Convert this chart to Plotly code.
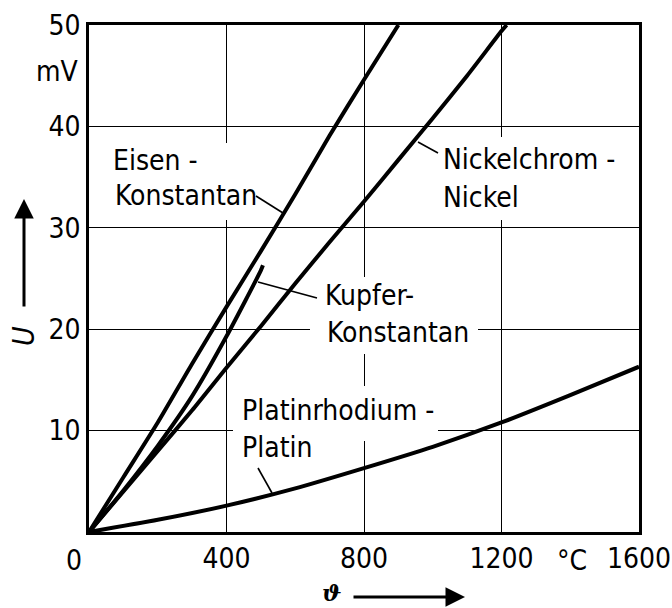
import plotly.graph_objects as go

# ---- data ----
temp_eisen = [0, 100, 200, 300, 400, 500, 600, 700, 800, 900]
u_eisen = [0, 5.4, 10.8, 16.6, 22.2, 27.7, 33.3, 39.1, 44.6, 50.0]

temp_nicr = [0, 100, 200, 300, 400, 500, 600, 700, 800, 900, 1000, 1100, 1200, 1215]
u_nicr = [0, 4.0, 8.0, 12.0, 16.2, 20.3, 24.5, 28.6, 32.6, 36.7, 40.8, 45.0, 49.4, 50.0]

temp_cu = [0, 100, 200, 300, 400, 500, 506]
u_cu = [0, 4.1, 8.5, 13.4, 19.3, 25.8, 26.3]

temp_pt = [0, 200, 400, 600, 800, 1000, 1200, 1400, 1600]
u_pt = [0, 1.2, 2.6, 4.3, 6.3, 8.4, 10.8, 13.5, 16.3]

x_ticks = [400, 800, 1200, 1600]
x_ticktext = ["400", "800", "1200", "1600"]
y_ticks = [10, 20, 30, 40, 50]
y_ticktext = ["10", "20", "30", "40", "50"]

series = [
    (temp_eisen, u_eisen),
    (temp_nicr, u_nicr),
    (temp_cu, u_cu),
    (temp_pt, u_pt),
]

FONT = "DejaVu Sans Condensed, Liberation Sans Narrow, Liberation Sans, sans-serif"
FS = 28

# layout geometry (pixels)
W, H = 672, 608
L, R, T, B = 89, 33, 25, 76
PW = W - L - R
PH = H - T - B


def px_x(p):
    return (p - L) / PW


def px_y(p):
    return (H - B - p) / PH


def dx(p):  # pixel -> data x
    return (p - L) / PW * 1600


def dy(p):  # pixel -> data y
    return (H - B - p) / PH * 50


fig = go.Figure()
for xs, ys in series:
    fig.add_trace(go.Scatter(x=xs, y=ys, mode="lines",
                             line=dict(color="black", width=4, shape="spline", smoothing=0.6),
                             hoverinfo="skip", showlegend=False))

# white masks that interrupt the grid behind the labels
masks = [
    (105, 262, 143, 220),   # Eisen-Konstantan
    (435, 620, 137, 220),   # Nickelchrom-Nickel
    (310, 478, 277, 354),   # Kupfer-Konstantan
    (233, 438, 386, 441),   # Platinrhodium
]
shapes = []
for x0, x1, y0, y1 in masks:
    shapes.append(dict(type="rect", xref="x", yref="y", x0=dx(x0), x1=dx(x1),
                       y0=dy(y1), y1=dy(y0), fillcolor="white",
                       line=dict(width=0), layer="between"))

# leader lines
leaders = [
    (256, 196, 283, 213),
    (438, 153, 418, 142),
    (317, 298, 258, 282),
    (258, 468, 272, 493),
]
for x0, y0, x1, y1 in leaders:
    shapes.append(dict(type="line", xref="x", yref="y", x0=dx(x0), y0=dy(y0),
                       x1=dx(x1), y1=dy(y1), line=dict(color="black", width=1.6),
                       layer="above"))

labels = [
    ("Konstantan", 114, 196),
    ("Eisen -", 112, 160),
    ("Nickel", 442, 198),
    ("Nickelchrom -", 442, 159),
    ("Konstantan", 326, 332),
    ("Kupfer-", 324, 295),
    ("Platin", 241, 447),
    ("Platinrhodium -", 241, 410),
]
annotations = []
for txt, x, y in labels:
    annotations.append(dict(text=txt, xref="paper", yref="paper", x=px_x(x), y=px_y(y),
                            xanchor="left", yanchor="middle", showarrow=False,
                            borderpad=0,
                            font=dict(family=FONT, size=FS, color="black")))

# extra axis texts
annotations += [
    dict(text="mV", xref="paper", yref="paper", x=px_x(81), y=px_y(71),
         xanchor="right", yanchor="middle", showarrow=False,
         font=dict(family=FONT, size=FS, color="black")),
    dict(text="0", xref="paper", yref="paper", x=px_x(74), y=px_y(560),
         xanchor="center", yanchor="middle", showarrow=False,
         font=dict(family=FONT, size=FS, color="black")),
    dict(text="°C", xref="paper", yref="paper", x=px_x(572), y=px_y(560),
         xanchor="center", yanchor="middle", showarrow=False,
         font=dict(family=FONT, size=FS, color="black")),
    dict(text="<i><b>ϑ</b></i>", xref="paper", yref="paper", x=px_x(332), y=px_y(592),
         xanchor="center", yanchor="middle", showarrow=False, borderpad=0,
         font=dict(family="DejaVu Serif, serif", size=23, color="black")),
    dict(text="<i>U</i>", xref="paper", yref="paper", x=px_x(23), y=px_y(336),
         xanchor="center", yanchor="middle", showarrow=False, textangle=-90,
         font=dict(family=FONT, size=30, color="black")),
    # arrows
    dict(text="", xref="paper", yref="paper", x=px_x(465), y=px_y(597),
         ax=-113, ay=0, showarrow=True, arrowhead=2, arrowsize=1.3, arrowwidth=3,
         arrowcolor="black", standoff=0, startstandoff=0),
    dict(text="", xref="paper", yref="paper", x=px_x(24), y=px_y(199),
         ax=0, ay=109, showarrow=True, arrowhead=2, arrowsize=1.3, arrowwidth=3,
         arrowcolor="black", standoff=0, startstandoff=0),
]

axis_common = dict(showgrid=True, gridcolor="black", gridwidth=1.4,
                   showline=True, linecolor="black", linewidth=2.5, mirror=True,
                   ticks="", zeroline=False, ticklabeloverflow="allow",
                   automargin=False,
                   tickfont=dict(family=FONT, size=FS, color="black"))

fig.update_layout(
    width=W, height=H,
    margin=dict(l=L, r=R, t=T, b=B, autoexpand=False),
    paper_bgcolor="white", plot_bgcolor="white",
    xaxis=dict(range=[0, 1600], tickvals=x_ticks, ticktext=x_ticktext, **axis_common),
    yaxis=dict(range=[0, 50], tickvals=y_ticks, ticktext=y_ticktext, **axis_common),
    shapes=shapes, annotations=annotations,
)

fig.write_html("out.html")
